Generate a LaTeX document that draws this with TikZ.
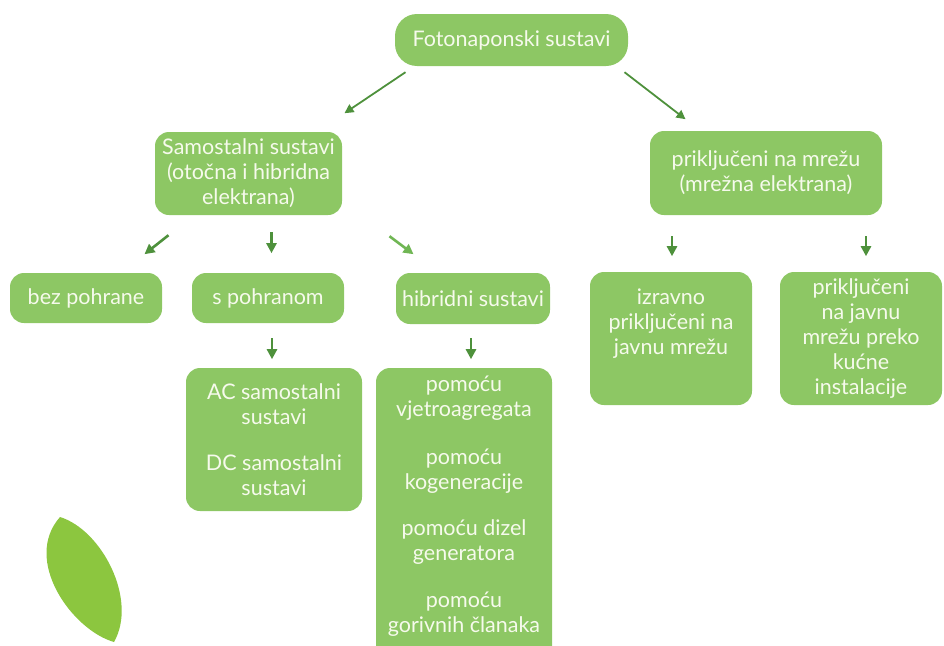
\documentclass[tikz,border=0pt]{standalone}
\usepackage{fontspec}
\setmainfont{Lato}
\usetikzlibrary{arrows.meta}
\definecolor{boxg}{RGB}{141,199,100}
\definecolor{txtg}{RGB}{246,250,236}
\definecolor{arrg}{RGB}{78,145,60}
\definecolor{arrl}{RGB}{112,182,84}
\definecolor{leafg}{RGB}{140,198,63}
\tikzset{
  gbox/.style={fill=boxg, draw=none, rounded corners=14pt, align=center, text=txtg,
    font=\fontsize{21.5}{25}\selectfont, inner sep=2pt},
  garr/.style={draw=arrg, line width=1.8pt, -{Triangle[length=9pt,width=9pt]}},
  gthick/.style={garr, line width=2.6pt, -{Triangle[length=10pt,width=10pt]}},
}
\begin{document}
\begin{tikzpicture}[x=1pt,y=-1pt]
\useasboundingbox (0,0) rectangle (944,645);
\clip (0,0) rectangle (944,645);
% leaf
\fill[leafg] (60,517) .. controls (22,560) and (72,630) .. (114,642) .. controls (138,600) and (102,530) .. (60,517) -- cycle;

\node[gbox, rounded corners=22pt, minimum width=233pt, minimum height=52pt] (top) at (511.5,40) {Fotonaponski sustavi};
\node[gbox, minimum width=187pt, minimum height=83pt] (sam) at (248.5,173.5) {Samostalni sustavi\\(otočna i hibridna\\elektrana)};
\node[gbox, minimum width=232pt, minimum height=84pt] (mre) at (766,173) {priključeni na mrežu\\(mrežna elektrana)};
\node[gbox, minimum width=152pt, minimum height=50pt] (bez) at (86,298) {bez pohrane};
\node[gbox, minimum width=152pt, minimum height=50pt] (spo) at (268,298) {s pohranom};
\node[gbox, minimum width=154pt, minimum height=51pt] (hib) at (473,298.5) {hibridni sustavi};
\node[gbox, minimum width=162pt, minimum height=133pt] (izr) at (671,338.5) {izravno\\priključeni na\\javnu mrežu\\[8pt]};
\node[gbox, minimum width=162pt, minimum height=133pt] (kuc) at (861,338.5) {priključeni\\na javnu\\mrežu preko\\kućne\\instalacije};
\node[gbox, minimum width=176pt, minimum height=143pt] (acdc) at (274,439.5) {AC samostalni\\sustavi\\[21pt]DC samostalni\\sustavi};
\fill[boxg, rounded corners=14pt] (376,368) rectangle (552,680);
\node[gbox, fill=none] (pom) at (464,506.5) {pomoću\\vjetroagregata\\[23pt]pomoću\\kogeneracije\\[21pt]pomoću dizel\\generatora\\[22pt]pomoću\\gorivnih članaka};

\draw[garr] ([xshift=-106pt,yshift=-6pt]top.south) -- ([xshift=-167pt,yshift=-47pt]top.south);
\draw[garr] ([xshift=113pt,yshift=-6pt]top.south) -- ([xshift=174pt,yshift=-53pt]top.south);
\draw[gthick] ([xshift=-80pt,yshift=-20pt]sam.south) -- ([xshift=-104pt,yshift=-39pt]sam.south);
\draw[gthick] ([xshift=23pt,yshift=-17pt]sam.south) -- ([xshift=23pt,yshift=-38pt]sam.south);
\draw[gthick, draw=arrl] ([xshift=141pt,yshift=-21pt]sam.south) -- ([xshift=165pt,yshift=-39pt]sam.south);
\draw[gthick] ([xshift=-94pt,yshift=-21pt]mre.south) -- ([xshift=-94pt,yshift=-41pt]mre.south);
\draw[gthick] ([xshift=100pt,yshift=-21pt]mre.south) -- ([xshift=100pt,yshift=-41pt]mre.south);
\draw[gthick] ([xshift=4pt,yshift=-15pt]spo.south) -- ([xshift=4pt,yshift=-36pt]spo.south);
\draw[gthick] ([xshift=-2pt,yshift=-14pt]hib.south) -- ([xshift=-2pt,yshift=-35pt]hib.south);
\end{tikzpicture}
\end{document}
